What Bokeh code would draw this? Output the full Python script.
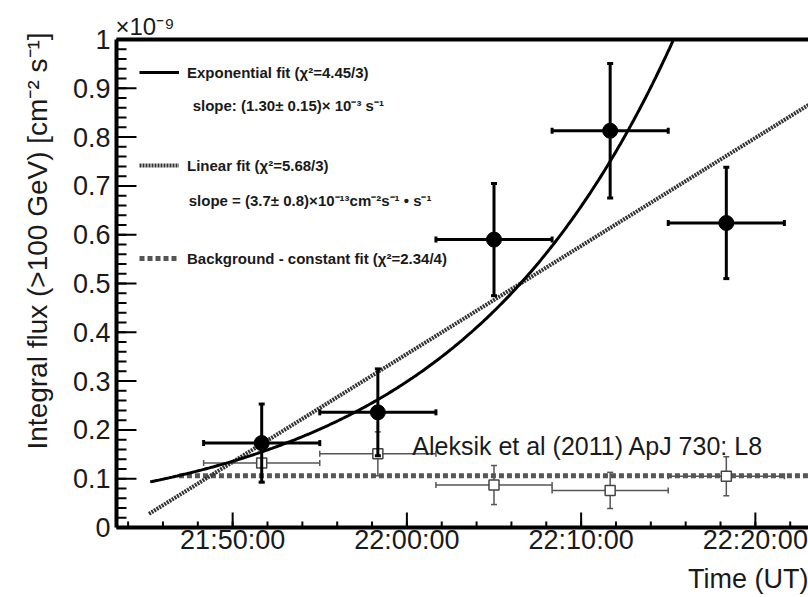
import numpy as np
import pandas as pd
from bokeh.plotting import figure
from bokeh.models import (ColumnDataSource, Whisker, TeeHead, FixedTicker, LinearAxis,
                          Label, Legend, LegendItem, DatetimeTickFormatter, Range1d, Title)
from bokeh.embed import file_html
from bokeh.resources import INLINE

# ---------------- data ----------------
DATE = "2010-06-17 "
bin_centers = ["21:51:40", "21:58:20", "22:05:00", "22:11:40", "22:18:20"]
bin_half_width_s = 200
flare_flux = [0.173, 0.236, 0.590, 0.813, 0.624]      # 1e-9 cm^-2 s^-1
flare_err = [0.080, 0.089, 0.115, 0.138, 0.114]
bkg_flux = [0.132, 0.151, 0.087, 0.076, 0.105]
bkg_err = [0.040, 0.045, 0.040, 0.037, 0.040]

# fit parameters
exp_ref_time = "21:50:00"
exp_amp = 0.1358          # flux at reference time
exp_slope = 1.315e-3      # s^-1
exp_start = "21:45:16"
lin_at_ref = 0.1342
lin_slope = 3.69e-4       # 1e-9 cm^-2 s^-1 per s
lin_start = "21:45:12"
bkg_const = 0.106
bkg_start = "21:46:55"
fit_end = "22:24:00"

x_start, x_end = "21:43:20", "22:23:03"
x_major = ["21:50:00", "22:00:00", "22:10:00", "22:20:00"]
x_minor_first = "21:44:00"
x_minor_step_s = 120
y_major = [0.0, 0.1, 0.2, 0.3, 0.4, 0.5, 0.6, 0.7, 0.8, 0.9, 1.0]
y_labels = ["0", "0.1", "0.2", "0.3", "0.4", "0.5", "0.6", "0.7", "0.8", "0.9", "1"]
y_minor_step = 0.02

FONT = "Liberation Sans"
TXT = "#1a1a1a"

# layout (pixels)
W, H = 808, 597
BL, BT, BB = 116, 39, 69
FRAME_W, FRAME_H = W - BL, H - BT - BB


def ms(t):
    return pd.Timestamp(DATE + t).value / 1e6


xc = np.array([ms(t) for t in bin_centers])
hw = bin_half_width_s * 1000.0
ff = np.array(flare_flux); fe = np.array(flare_err)
bf = np.array(bkg_flux); be = np.array(bkg_err)

flare_src = ColumnDataSource(dict(x=xc, y=ff, xl=xc - hw, xu=xc + hw, yl=ff - fe, yu=ff + fe))
bkg_src = ColumnDataSource(dict(x=xc, y=bf, xl=xc - hw, xu=xc + hw, yl=bf - be, yu=bf + be))

x0, x1 = ms(x_start), ms(x_end)
p = figure(width=W, height=H, x_axis_type="datetime",
           x_range=Range1d(x0, x1), y_range=Range1d(0, 1),
           output_backend="svg", toolbar_location=None,
           min_border_left=BL, min_border_right=0, min_border_top=BT, min_border_bottom=BB)
p.outline_line_color = None
p.grid.visible = False
p.background_fill_color = None
p.border_fill_color = None

# background constant fit
bx = np.array([ms(bkg_start), ms(fit_end)])
bkg_r = p.line(bx, np.full(2, bkg_const), line_color="#555555", line_width=5, line_dash="5 3")

# background points
for dim, base, up, lo in (("height", "x", "yu", "yl"), ("width", "y", "xu", "xl")):
    p.add_layout(Whisker(source=bkg_src, base=base, upper=up, lower=lo, dimension=dim,
                         line_color="#555555", line_width=1.5,
                         upper_head=TeeHead(size=6, line_color="#555555", line_width=1.5),
                         lower_head=TeeHead(size=6, line_color="#555555", line_width=1.5)))
p.scatter("x", "y", source=bkg_src, marker="square", size=10, fill_color="white",
          line_color="#444444", line_width=1.5)

# linear fit
lx = np.array([ms(lin_start), ms(fit_end)])
ly = lin_at_ref + lin_slope * (lx - ms(exp_ref_time)) / 1000.0
lin_r = p.line(lx, ly, line_color="#333333", line_width=4, line_dash="2 1")

# exponential fit
ex = np.linspace(ms(exp_start), ms(fit_end), 400)
ey = exp_amp * np.exp(exp_slope * (ex - ms(exp_ref_time)) / 1000.0)
exp_r = p.line(ex, ey, line_color="black", line_width=3)

# flare points
for dim, base, up, lo in (("height", "x", "yu", "yl"), ("width", "y", "xu", "xl")):
    p.add_layout(Whisker(source=flare_src, base=base, upper=up, lower=lo, dimension=dim,
                         line_color="black", line_width=3, level="glyph",
                         upper_head=TeeHead(size=6, line_color="black", line_width=3),
                         lower_head=TeeHead(size=6, line_color="black", line_width=3)))
p.scatter("x", "y", source=flare_src, size=15, color="black")

# inward tick marks: one broken polyline per tick set (NaN separates the ticks)
x_major_ms = [ms(t) for t in x_major]
x_minor_ms = list(np.arange(ms(x_minor_first), x1, x_minor_step_s * 1000.0))
y_minor = list(np.round(np.arange(0, 1.0001, y_minor_step), 3))
ms_per_px = (x1 - x0) / FRAME_W
y_per_px = 1.0 / FRAME_H


def yticks(vals, length_px):
    xs, ys = [], []
    for v in vals:
        xs += [x0, x0 + length_px * ms_per_px, np.nan]
        ys += [v, v, np.nan]
    p.line(xs, ys, line_color="black", line_width=2, level="overlay")


def xticks(vals, length_px):
    xs, ys = [], []
    for v in vals:
        xs += [v, v, np.nan]
        ys += [0.0, length_px * y_per_px, np.nan]
    p.line(xs, ys, line_color="black", line_width=2, level="overlay")


yticks(y_major, 20)
yticks(y_minor, 10)
xticks(x_major_ms, 15)
xticks(x_minor_ms, 6)

# axes
xa = p.xaxis[0]
xa.ticker = FixedTicker(ticks=x_major_ms, minor_ticks=x_minor_ms)
xa.formatter = DatetimeTickFormatter(seconds="%H:%M:%S", minsec="%H:%M:%S", minutes="%H:%M:%S",
                                     hourmin="%H:%M:%S", hours="%H:%M:%S")
ya = p.yaxis[0]
ya.ticker = FixedTicker(ticks=y_major, minor_ticks=y_minor)
ya.major_label_overrides = {v: s for v, s in zip(y_major, y_labels)}

for ax in (xa, ya):
    ax.axis_line_width = 4
    ax.axis_line_color = "black"
    ax.major_tick_in = 0
    ax.major_tick_out = 0
    ax.minor_tick_in = 0
    ax.minor_tick_out = 0
    ax.major_label_text_font = FONT
    ax.major_label_text_font_size = "27px"
    ax.major_label_text_color = TXT
xa.major_label_standoff = -3
ya.major_label_standoff = 6

top = LinearAxis(ticker=FixedTicker(ticks=[]), major_label_text_font_size="0px",
                 major_tick_in=0, major_tick_out=0, minor_tick_in=0, minor_tick_out=0,
                 axis_line_width=4, axis_line_color="black")
p.add_layout(top, "above")

# axis titles (outside the frame)
p.add_layout(Title(text="Integral flux (>100 GeV) [cm\u207b\u00b2 s\u207b\u00b9]", align="left", offset=78,
                   text_font=FONT, text_font_size="28px", text_font_style="normal", text_color=TXT,
                   standoff=34), "left")
p.add_layout(Title(text="Time (UT)", align="right", offset=0,
                   text_font=FONT, text_font_size="27px", text_font_style="normal", text_color=TXT,
                   standoff=8), "below")
p.add_layout(Title(text="\u00d710\u207b\u2079", align="left", offset=-1,
                   text_font=FONT, text_font_size="24px", text_font_style="normal", text_color=TXT,
                   standoff=0), "above")

# legend
legend = Legend(items=[LegendItem(label="Exponential fit (\u03c7\u00b2=4.45/3)", renderers=[exp_r]),
                       LegendItem(label="Linear fit (\u03c7\u00b2=5.68/3)", renderers=[lin_r]),
                       LegendItem(label="Background - constant fit (\u03c7\u00b2=2.34/4)", renderers=[bkg_r])],
                location="top_left", margin=23, padding=12, spacing=73,
                label_height=20, glyph_height=20, glyph_width=40, label_standoff=8,
                label_text_font=FONT, label_text_font_style="bold", label_text_font_size="15px",
                label_text_color=TXT, border_line_color=None, background_fill_alpha=0)
p.add_layout(legend)


def ref_t(minutes):
    return ms(exp_ref_time) + minutes * 60000.0


texts = [
    dict(x=ref_t(-2.295), y=0.865, text="slope: (1.30\u00b1 0.15)\u00d7 10\u207b\u00b3 s\u207b\u00b9",
         size="15px", style="bold", baseline="middle"),
    dict(x=ref_t(-2.52), y=0.671,
         text="slope = (3.7\u00b1 0.8)\u00d710\u207b\u00b9\u00b3cm\u207b\u00b2s\u207b\u00b9 \u2022 s\u207b\u00b9",
         size="15px", style="bold", baseline="middle"),
    dict(x=ref_t(10.31), y=0.1677, text="Aleksik et al (2011) ApJ 730: L8",
         size="25px", style="normal", baseline="alphabetic"),
]
for t in texts:
    p.add_layout(Label(x=t["x"], y=t["y"], text=t["text"], text_font=FONT, text_font_size=t["size"],
                       text_font_style=t["style"], text_baseline=t["baseline"], text_align="left",
                       text_color=TXT))

open("out.html", "w").write(file_html(p, INLINE))
